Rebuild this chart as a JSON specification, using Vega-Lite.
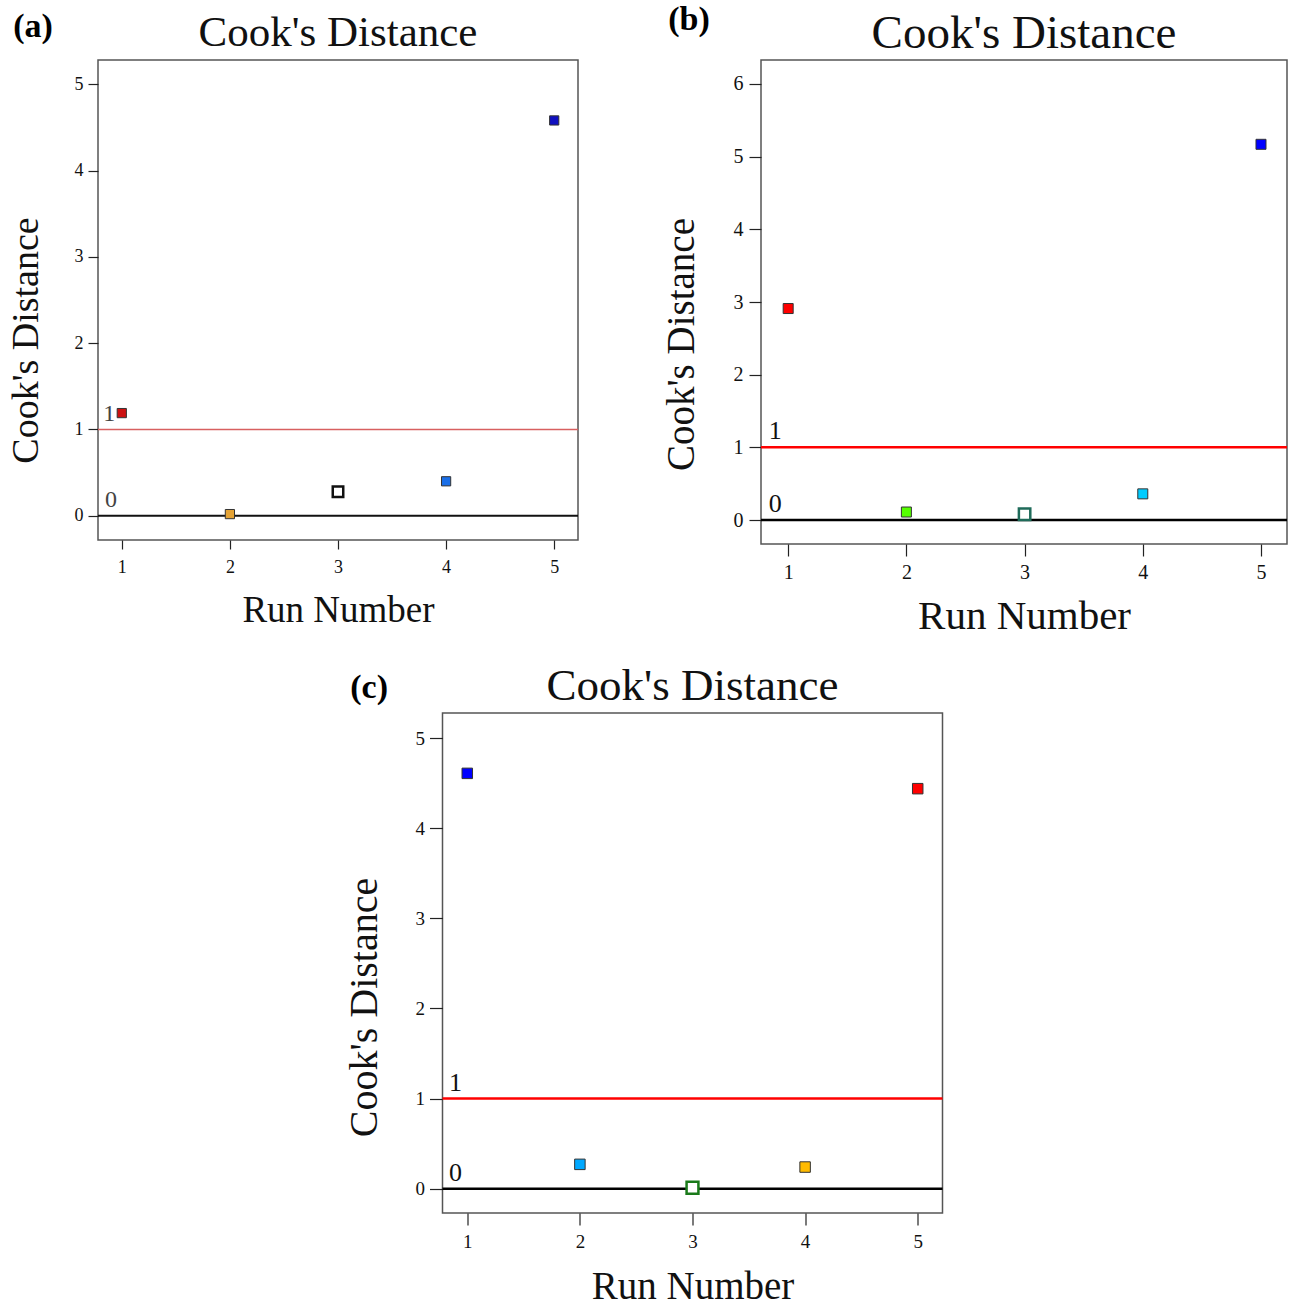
{
  "$schema": "https://vega.github.io/schema/vega-lite/v6.json",
  "background": "white",
  "padding": {"left": 6, "top": 3, "right": 5, "bottom": 0},
  "config": {
    "font": "Liberation Serif",
    "view": {"stroke": "#555555", "strokeWidth": 1.5},
    "axis": {"grid": false, "domain": false, "labelFont": "Liberation Serif", "titleFont": "Liberation Serif", "titleFontWeight": "normal", "tickColor": "#222222", "labelColor": "#111111", "titleColor": "#111111", "tickWidth": 1.2},
    "title": {"font": "Liberation Serif", "fontWeight": "normal", "color": "#111111"},
    "text": {"font": "Liberation Serif", "fontWeight": "normal"}
  },
  "center": true,
  "spacing": 26,
  "resolve": {"scale": {"fill": "independent"}},
  "vconcat": [
    {
      "hconcat": [
        {
          "title": {"text": "(a)", "anchor": "start", "frame": "bounds", "fontSize": 34, "fontWeight": "bold", "offset": -33, "dx": 7, "color": "black"},
          "resolve": {"scale": {"fill": "independent"}},
          "vconcat": [
            {
              "title": {"text": "Cook's Distance", "fontSize": 43, "offset": 5},
              "width": 480,
              "height": 480,
              "data": {"values": [
                {"Run": 1, "D": 1.19},
                {"Run": 2, "D": 0.02},
                {"Run": 3, "D": 0.28},
                {"Run": 4, "D": 0.40},
                {"Run": 5, "D": 4.58}
              ]},
              "layer": [
                {"data": {"values": [{}]}, "mark": {"type": "rule", "color": "#d86060", "strokeWidth": 1.5}, "encoding": {"y": {"datum": 1}}},
                {"data": {"values": [{}]}, "mark": {"type": "rule", "color": "#111111", "strokeWidth": 2}, "encoding": {"y": {"datum": 0}}},
                {"data": {"values": [{}]}, "mark": {"type": "text", "fontSize": 24, "fill": "#444444", "baseline": "alphabetic", "align": "center", "dy": -8}, "encoding": {"x": {"datum": 0.885}, "y": {"datum": 1}, "text": {"value": "1"}}},
                {"data": {"values": [{}]}, "mark": {"type": "text", "fontSize": 24, "fill": "#444444", "baseline": "alphabetic", "align": "center", "dy": -9}, "encoding": {"x": {"datum": 0.90}, "y": {"datum": 0}, "text": {"value": "0"}}},
                {
                  "transform": [{"filter": "datum.Run != 3"}],
                  "mark": {"type": "square", "size": 85, "opacity": 1, "stroke": "#333333", "strokeWidth": 1},
                  "encoding": {
                    "x": {"field": "Run", "type": "quantitative", "scale": {"domain": [0.78, 5.22], "nice": false, "zero": false},
                          "axis": {"values": [1, 2, 3, 4, 5], "format": "d", "title": "Run Number", "titleFontSize": 37, "labelFontSize": 18, "tickSize": 9, "labelPadding": 9, "titlePadding": 16}},
                    "y": {"field": "D", "type": "quantitative", "scale": {"domain": [-0.28, 5.28], "nice": false, "zero": false},
                          "axis": {"values": [0, 1, 2, 3, 4, 5], "format": "d", "title": "Cook's Distance", "titleFontSize": 38, "labelFontSize": 18, "tickSize": 10, "labelPadding": 5, "titlePadding": 29, "titleY": 280}},
                    "fill": {"field": "Run", "type": "nominal", "scale": {"domain": [1, 2, 4, 5], "range": ["#cc1111", "#e3a235", "#1a6fe8", "#1010c0"]}, "legend": null}
                  }
                },
                {
                  "transform": [{"filter": "datum.Run == 3"}],
                  "mark": {"type": "square", "size": 110, "opacity": 1, "fill": "white", "stroke": "#111111", "strokeWidth": 2.5},
                  "encoding": {
                    "x": {"field": "Run", "type": "quantitative"},
                    "y": {"field": "D", "type": "quantitative"}
                  }
                }
              ]
            }
          ]
        },
        {
          "title": {"text": "(b)", "anchor": "start", "frame": "bounds", "fontSize": 34, "fontWeight": "bold", "offset": -28, "dx": 7, "color": "black"},
          "resolve": {"scale": {"fill": "independent"}},
          "vconcat": [
            {
              "title": {"text": "Cook's Distance", "fontSize": 47, "offset": 2},
              "width": 526,
              "height": 484,
              "data": {"values": [
                {"Run": 1, "D": 2.91},
                {"Run": 2, "D": 0.11},
                {"Run": 3, "D": 0.08},
                {"Run": 4, "D": 0.36},
                {"Run": 5, "D": 5.17}
              ]},
              "layer": [
                {"data": {"values": [{}]}, "mark": {"type": "rule", "color": "#ff0000", "strokeWidth": 2.5}, "encoding": {"y": {"datum": 1}}},
                {"data": {"values": [{}]}, "mark": {"type": "rule", "color": "#000000", "strokeWidth": 2.5}, "encoding": {"y": {"datum": 0}}},
                {"data": {"values": [{}]}, "mark": {"type": "text", "fontSize": 26, "fill": "#111111", "baseline": "alphabetic", "align": "center", "dy": -8}, "encoding": {"x": {"datum": 0.89}, "y": {"datum": 1}, "text": {"value": "1"}}},
                {"data": {"values": [{}]}, "mark": {"type": "text", "fontSize": 26, "fill": "#111111", "baseline": "alphabetic", "align": "center", "dy": -8}, "encoding": {"x": {"datum": 0.89}, "y": {"datum": 0}, "text": {"value": "0"}}},
                {
                  "transform": [{"filter": "datum.Run != 3"}],
                  "mark": {"type": "square", "size": 100, "opacity": 1, "stroke": "#333333", "strokeWidth": 1},
                  "encoding": {
                    "x": {"field": "Run", "type": "quantitative", "scale": {"domain": [0.77, 5.22], "nice": false, "zero": false},
                          "axis": {"values": [1, 2, 3, 4, 5], "format": "d", "title": "Run Number", "titleFontSize": 41, "labelFontSize": 20, "tickSize": 12, "labelPadding": 6, "titlePadding": 14}},
                    "y": {"field": "D", "type": "quantitative", "scale": {"domain": [-0.33, 6.33], "nice": false, "zero": false},
                          "axis": {"values": [0, 1, 2, 3, 4, 5, 6], "format": "d", "title": "Cook's Distance", "titleFontSize": 39, "labelFontSize": 20, "tickSize": 12, "labelPadding": 6, "titlePadding": 32, "titleY": 284}},
                    "fill": {"field": "Run", "type": "nominal", "scale": {"domain": [1, 2, 4, 5], "range": ["#ff0000", "#55ff00", "#00ccff", "#0000ff"]}, "legend": null}
                  }
                },
                {
                  "transform": [{"filter": "datum.Run == 3"}],
                  "mark": {"type": "square", "size": 130, "opacity": 1, "fill": "white", "stroke": "#1f6b5a", "strokeWidth": 2.5},
                  "encoding": {
                    "x": {"field": "Run", "type": "quantitative"},
                    "y": {"field": "D", "type": "quantitative"}
                  }
                }
              ]
            }
          ]
        }
      ],
      "spacing": 81,
      "align": "each",
      "resolve": {"scale": {"fill": "independent"}}
    },
    {
      "title": {"text": "(c)", "anchor": "start", "frame": "bounds", "fontSize": 34, "fontWeight": "bold", "offset": -42, "dx": 7, "color": "black"},
      "resolve": {"scale": {"fill": "independent"}},
      "vconcat": [
        {
          "title": {"text": "Cook's Distance", "fontSize": 45, "offset": 4},
          "width": 500,
          "height": 500,
          "data": {"values": [
            {"Run": 1, "D": 4.61},
            {"Run": 2, "D": 0.27},
            {"Run": 3, "D": 0.01},
            {"Run": 4, "D": 0.24},
            {"Run": 5, "D": 4.44}
          ]},
          "layer": [
            {"data": {"values": [{}]}, "mark": {"type": "rule", "color": "#ff0000", "strokeWidth": 2.5}, "encoding": {"y": {"datum": 1}}},
            {"data": {"values": [{}]}, "mark": {"type": "rule", "color": "#000000", "strokeWidth": 2.5}, "encoding": {"y": {"datum": 0}}},
            {"data": {"values": [{}]}, "mark": {"type": "text", "fontSize": 26, "fill": "#111111", "baseline": "alphabetic", "align": "center", "dy": -8}, "encoding": {"x": {"datum": 0.895}, "y": {"datum": 1}, "text": {"value": "1"}}},
            {"data": {"values": [{}]}, "mark": {"type": "text", "fontSize": 26, "fill": "#111111", "baseline": "alphabetic", "align": "center", "dy": -8}, "encoding": {"x": {"datum": 0.895}, "y": {"datum": 0}, "text": {"value": "0"}}},
            {
              "transform": [{"filter": "datum.Run != 3"}],
              "mark": {"type": "square", "size": 110, "opacity": 1, "stroke": "#333333", "strokeWidth": 1},
              "encoding": {
                "x": {"field": "Run", "type": "quantitative", "scale": {"domain": [0.78, 5.22], "nice": false, "zero": false},
                      "axis": {"values": [1, 2, 3, 4, 5], "format": "d", "title": "Run Number", "titleFontSize": 39, "labelFontSize": 19, "tickSize": 12, "labelPadding": 7, "titlePadding": 16}},
                "y": {"field": "D", "type": "quantitative", "scale": {"domain": [-0.27, 5.28], "nice": false, "zero": false},
                      "axis": {"values": [0, 1, 2, 3, 4, 5], "format": "d", "title": "Cook's Distance", "titleFontSize": 40, "labelFontSize": 19, "tickSize": 13, "labelPadding": 5, "titlePadding": 31, "titleY": 294}},
                "fill": {"field": "Run", "type": "nominal", "scale": {"domain": [1, 2, 4, 5], "range": ["#0000ff", "#00a8ff", "#ffbb00", "#ff0000"]}, "legend": null}
              }
            },
            {
              "transform": [{"filter": "datum.Run == 3"}],
              "mark": {"type": "square", "size": 140, "opacity": 1, "fill": "white", "stroke": "#1a7a1a", "strokeWidth": 2.5},
              "encoding": {
                "x": {"field": "Run", "type": "quantitative"},
                "y": {"field": "D", "type": "quantitative"}
              }
            }
          ]
        }
      ]
    }
  ]
}
